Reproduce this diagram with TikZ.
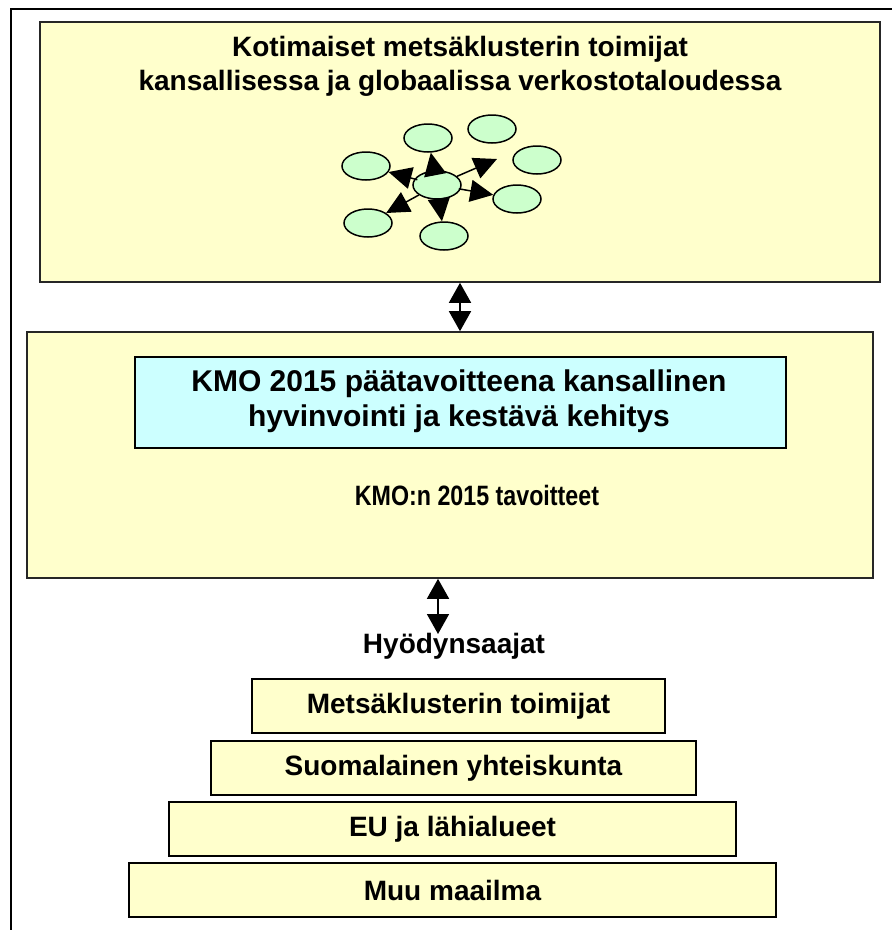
\documentclass[tikz,border=0pt]{standalone}
\usepackage{fontspec}
\usepackage{graphicx}
\setmainfont{Liberation Sans}
\usetikzlibrary{arrows.meta,shapes.geometric}
\definecolor{paleyellow}{HTML}{FFFFCC}
\definecolor{palecyan}{HTML}{CCFFFF}
\definecolor{palegreen}{HTML}{CCFFCC}
\tikzset{
  panel/.style={draw=black!85, line width=1.6pt, fill=paleyellow, inner sep=0pt},
  goalbox/.style={draw=black, line width=1.8pt, fill=palecyan, inner sep=0pt},
  tier/.style={draw=black, line width=2.2pt, fill=paleyellow, inner sep=0pt, minimum height=54pt},
  label/.style={inner sep=0pt, align=center, font=\bfseries\fontsize{28}{34}\selectfont},
  biglabel/.style={inner sep=0pt, align=center, font=\bfseries\fontsize{30}{35}\selectfont},
  blob/.style={ellipse, draw=black, line width=1.5pt, fill=palegreen, inner sep=0pt,
               minimum width=48pt, minimum height=28pt},
  netarrow/.style={line width=1.5pt, -{Triangle[length=23pt,width=22pt]}},
  linkarrow/.style={line width=1.6pt, {Triangle[length=20pt,width=22pt]}-{Triangle[length=20pt,width=22pt]}}
}
\begin{document}
\begin{tikzpicture}[x=1pt,y=-1pt]
\useasboundingbox (0,0) rectangle (892,930);

% outer frame (only its top and left edges fall inside the page)
\draw[line width=2.6pt] (11,940) -- (11,9) -- (900,9);

% upper panel: the forest-cluster actors
\node[panel, minimum width=840pt, minimum height=260pt] (actors) at (460,152) {};
\node[label] (actorstitle) at (460,66) {Kotimaiset metsäklusterin toimijat\\kansallisessa ja globaalissa verkostotaloudessa};

% network of actors
\node[blob] (nt)  at (428,138) {};
\node[blob] (ntr) at (492,129) {};
\node[blob] (nru) at (537,160) {};
\node[blob] (nrl) at (517,199) {};
\node[blob] (nb)  at (444,236) {};
\node[blob] (nlu) at (366,166) {};
\node[blob] (nll) at (368,223) {};
\node[blob] (nc)  at (437,185) {};
\coordinate (nfree) at (497,159);
\draw[netarrow, shorten <=-9pt] (nc) -- (nt);
\draw[netarrow, shorten <=-3pt] (nc) -- (nlu);
\draw[netarrow] (nc) -- (nll);
\draw[netarrow, shorten <=-5pt] (nc) -- (nb);
\draw[netarrow, shorten <=-2pt] (nc) -- (nrl);
\draw[netarrow] (nc) -- (nfree);

% middle panel: KMO 2015 goals
\node[panel, minimum width=846pt, minimum height=246pt] (goals) at (450,455) {};
\node[goalbox, minimum width=651pt, minimum height=91pt] (main) at (460.5,402.5) {};
\node[biglabel] (maintext) at (459,401) {KMO 2015 päätavoitteena kansallinen\\hyvinvointi ja kestävä kehitys};
\node[label] (goalstext) at (477,495) {\scalebox{0.83}[1]{KMO:n 2015 tavoitteet}};

% links between panels
\draw[linkarrow] (actors.south) -- (actors.south |- goals.north);
\coordinate (benefittop) at (438,634);
\draw[linkarrow] (benefittop |- goals.south) -- (benefittop);

% beneficiaries
\node[label] (benef) at (454,646) {Hyödynsaajat};
\node[tier, minimum width=413pt] (t1) at (458.5,706) {};
\node[tier, minimum width=485pt] (t2) at (453.5,768) {};
\node[tier, minimum width=567pt] (t3) at (452.5,829) {};
\node[tier, minimum width=647pt] (t4) at (452.5,890) {};
\node[label] at (t1) {Metsäklusterin toimijat};
\node[label] at (t2) {Suomalainen yhteiskunta};
\node[label] at (t3) {EU ja lähialueet};
\node[label] at (t4) {Muu maailma};
\end{tikzpicture}
\end{document}
